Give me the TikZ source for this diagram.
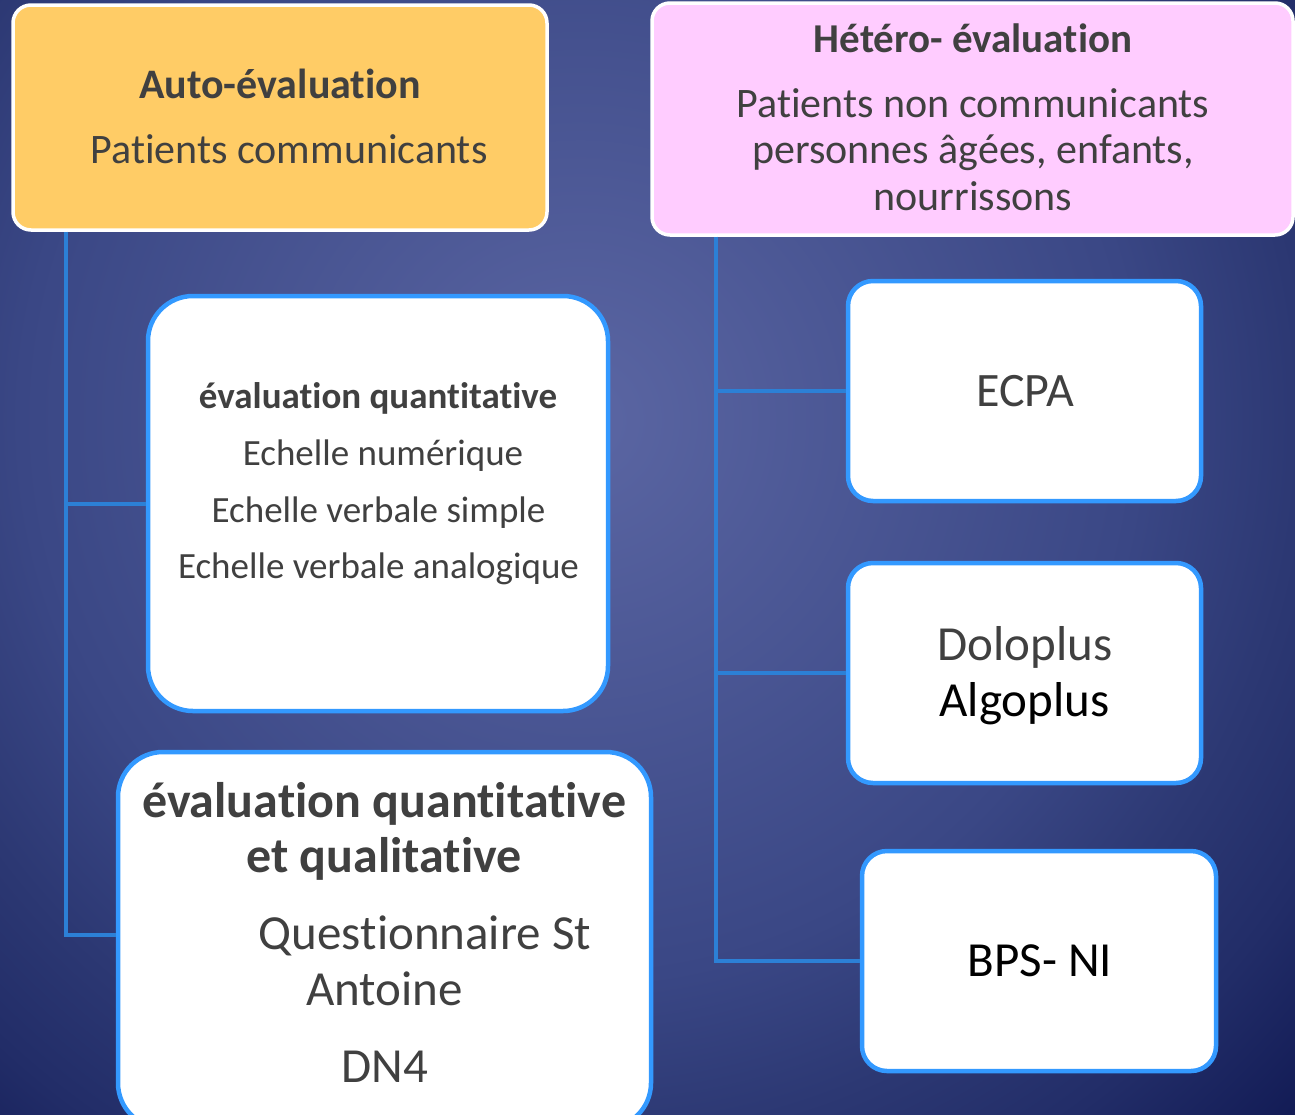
\documentclass[tikz,border=0pt]{standalone}
\usepackage{fontspec}
\setmainfont[RawFeature={-liga;-clig;-dlig}]{Carlito}
\definecolor{bgin}{HTML}{5B66A3}
\definecolor{bgm1}{HTML}{3A4785}
\definecolor{bgm2}{HTML}{2C3873}
\definecolor{bgm3}{HTML}{222D68}
\definecolor{bgout}{HTML}{121B55}
\definecolor{txt}{HTML}{404040}
\definecolor{autofill}{HTML}{FFCC66}
\definecolor{hetfill}{HTML}{FFCCFF}
\definecolor{boxblue}{HTML}{3399FF}
\definecolor{connblue}{HTML}{2C80D6}
\pgfdeclareradialshading{bgshade}{\pgfpoint{0bp}{0bp}}{color(0bp)=(bgin); color(14bp)=(bgm1); color(18bp)=(bgm2); color(21.25bp)=(bgm3); color(25bp)=(bgout); color(50bp)=(bgout)}
\tikzset{
  topbox/.style={draw=white, line width=3.5pt, rounded corners=18pt, minimum width=#1, inner sep=0pt},
  whitebox/.style={draw=boxblue, fill=white, line width=4.5pt, inner sep=0pt},
  conn/.style={draw=connblue, line width=4pt},
  lbl/.style={anchor=base, inner sep=0pt, text=txt},
}
\newcommand{\fs}[1]{\fontsize{#1}{#1}\selectfont}
\begin{document}
\begin{tikzpicture}[x=1pt, y=-1pt]
\useasboundingbox (0,0) rectangle (1295,1114);
\clip (0,0) rectangle (1295,1114);
\fill[bgout] (0,0) rectangle (1295,1114);
\shade[shading=bgshade] (580,420) circle (1000);

\node[topbox=534pt, minimum height=225pt, fill=autofill] (auto) at (280,117.5) {};
\node[topbox=641pt, minimum height=232pt, fill=hetfill] (hetero) at (972.5,119) {};
\node[whitebox, rounded corners=45pt, minimum width=460pt, minimum height=415pt] (quant) at (378,503.5) {};
\node[whitebox, rounded corners=45pt, minimum width=533pt, minimum height=376pt] (bottom) at (384.5,940) {};
\node[whitebox, rounded corners=25pt, minimum width=353pt, minimum height=220pt] (ecpa) at (1024.5,391) {};
\node[whitebox, rounded corners=25pt, minimum width=353pt, minimum height=220pt] (dolo) at (1024.5,673) {};
\node[whitebox, rounded corners=25pt, minimum width=354pt, minimum height=220pt] (bps) at (1039,961) {};

\path[conn] ([xshift=55pt]auto.south west) |- ([yshift=5pt]bottom.west);
\path[conn] ([xshift=55pt]auto.south west) |- (quant.west);
\path[conn] ([xshift=66pt]hetero.south west) |- (bps.west);
\path[conn] ([xshift=66pt]hetero.south west) |- (ecpa.west);
\path[conn] ([xshift=66pt]hetero.south west) |- (dolo.west);

\node[lbl, font=\fs{42}\bfseries] (autot) at (280,98) {Auto-évaluation};
\node[lbl, font=\fs{42}] (autos) at (289,163) {Patients communicants};

\node[lbl, font=\fs{41}\bfseries] (hett) at (973,52) {Hétéro- évaluation};
\node[lbl, font=\fs{42}] (het1) at (973,117) {Patients non communicants};
\node[lbl, font=\fs{42}] (het2) at (973,163) {personnes âgées, enfants,};
\node[lbl, font=\fs{42}] (het3) at (973,210) {nourrissons};

\node[lbl, font=\fs{37}\bfseries] (q0) at (378,408) {évaluation quantitative};
\node[lbl, font=\fs{37}] (q1) at (383,465) {Echelle numérique};
\node[lbl, font=\fs{37}] (q2) at (378.5,522) {Echelle verbale simple};
\node[lbl, font=\fs{37}] (q3) at (378.5,578) {Echelle verbale analogique};

\node[lbl, font=\fs{50}\bfseries] (b0) at (384,817) {évaluation quantitative};
\node[lbl, font=\fs{50}\bfseries] (b1) at (384,872) {et qualitative};
\node[lbl, font=\fs{49}] (b2) at (425,949) {Questionnaire St};
\node[lbl, font=\fs{49}] (b3) at (384.5,1005) {Antoine};
\node[lbl, font=\fs{49}] (b4) at (385,1082) {DN4};

\node[lbl, font=\fs{48}] (ecpat) at (1025,406) {ECPA};
\node[lbl, font=\fs{49}] (dolot) at (1025,660) {Doloplus};
\node[lbl, font=\fs{49}, text=black] (algot) at (1024.5,716) {Algoplus};
\node[lbl, font=\fs{49}, text=black] (bpst) at (1040,976) {BPS- NI};
\end{tikzpicture}
\end{document}
